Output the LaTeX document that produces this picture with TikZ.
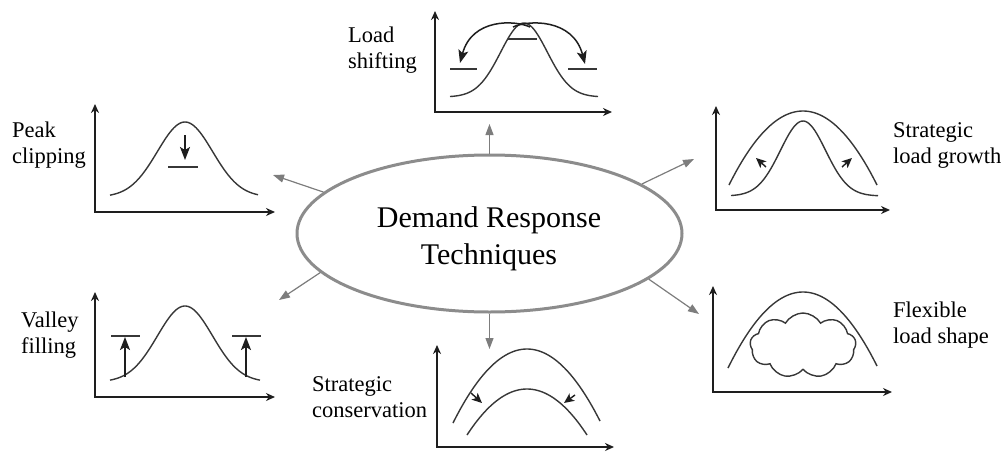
\documentclass[tikz,border=0pt]{standalone}
\usepackage{fontspec}
\setmainfont{Liberation Serif}
\usetikzlibrary{arrows.meta,shapes.geometric,shapes.symbols}
\definecolor{ellGray}{RGB}{140,140,140}
\definecolor{connGray}{RGB}{125,125,125}
\definecolor{curveGray}{RGB}{55,55,55}
\definecolor{axisBlack}{RGB}{30,30,30}
\begin{document}
\begin{tikzpicture}[x=1pt,y=-1pt,
  conn/.style={draw=connGray,line width=1.2pt,-{Triangle[length=11pt,width=8pt]}},
  axisline/.style={draw=axisBlack,line width=1.8pt,{Stealth[length=9pt,width=8pt]}-{Stealth[length=9pt,width=8pt]}},
  curve/.style={draw=curveGray,line width=1.4pt},
  smallarrow/.style={draw=axisBlack,line width=1.5pt,-{Stealth[length=13pt,width=10pt,inset=3pt]}},
  tinyarrow/.style={draw=axisBlack,line width=1.4pt,-{Stealth[length=10pt,width=9pt,inset=2.5pt]}},
  lbl/.style={font=\fontsize{22.5}{26}\selectfont,align=left,anchor=west,inner sep=0pt}]
\useasboundingbox (0,0) rectangle (1007,453);

% central ellipse
\node[ellipse,draw=ellGray,line width=3pt,minimum width=385pt,minimum height=157pt,inner sep=0pt] (E) at (489.5,233.5) {};
\node[font=\fontsize{30}{37}\selectfont,align=center,inner sep=0pt] (T) at (489,238.5) {Demand Response\\Techniques};

% arrow tips
\coordinate (tPC) at (273,175);
\coordinate (tLS) at (489.5,124);
\coordinate (tLG) at (694,159);
\coordinate (tVF) at (279,300);
\coordinate (tSC) at (489.5,349);
\coordinate (tFL) at (699,314);
\draw[conn] (E.166) -- (tPC);
\draw[conn] (E.90) -- (tLS);
\draw[conn] (E.18) -- (tLG);
\draw[conn] (E.193) -- (tVF);
\draw[conn] (E.270) -- (tSC);
\draw[conn] (E.344) -- (tFL);

% ---- Peak clipping
\draw[axisline] (95,104) -- (95,212) -- (275,212);
\draw[curve] plot[domain=110:258,samples=80,smooth] (\x,{197-75*exp(0-((\x-185)/39)^2)});
\draw[smallarrow] (185,135) -- (185,160);
\draw[curve] (168,167) -- (198,167);
\node[lbl] (lPC) at (12,145) {Peak\\clipping};

% ---- Load shifting
\draw[axisline] (435,11) -- (435,112) -- (612,112);
\draw[curve] plot[domain=450:598,samples=80,smooth] (\x,{97-74*exp(0-((\x-524)/33)^2)});
\draw[curve] (508,39) -- (537,39);
\draw[curve] (450,69) -- (477,69);
\draw[curve] (568,69) -- (597,69);
\draw[smallarrow] (530,27) .. controls (515,20) and (472,18) .. (460,63);
\draw[smallarrow] (513,27) .. controls (528,20) and (573,18) .. (585,64);
\node[lbl] (lLS) at (348,50) {Load\\shifting};

% ---- Strategic load growth
\draw[axisline] (716,106) -- (716,210) -- (890,210);
\draw[curve] plot[domain=729:877,samples=80,smooth] (\x,{111+74*((\x-803)/74)*((\x-803)/74)});
\draw[curve] plot[domain=731:878,samples=80,smooth] (\x,{196-75*exp(0-((\x-803)/32)^2)});
\draw[tinyarrow] (766,167) -- (756,158);
\draw[tinyarrow] (842,167) -- (852,158);
\node[lbl] (lLG) at (893,145) {Strategic\\load growth};

% ---- Valley filling
\draw[axisline] (95,292) -- (95,397) -- (275,397);
\draw[curve] plot[domain=110:260,samples=80,smooth] (\x,{382-76*exp(0-((\x-185)/39)^2)});
\draw[curve] (111,336) -- (140,336);
\draw[curve] (232,336) -- (261,336);
\draw[smallarrow] (125,377) -- (125,337);
\draw[smallarrow] (246,377) -- (246,337);
\node[lbl] (lVF) at (21,335) {Valley\\filling};

% ---- Strategic conservation
\draw[axisline] (437,345) -- (437,447) -- (614,447);
\draw[curve] plot[domain=453:600,samples=80,smooth] (\x,{349+73*((\x-527)/73.5)*((\x-527)/73.5)});
\draw[curve] plot[domain=467:587,samples=80,smooth] (\x,{389+46*((\x-527)/60)*((\x-527)/60)});
\draw[tinyarrow] (471,393) -- (482,403);
\draw[tinyarrow] (575,395) -- (564,403);
\node[lbl] (lSC) at (312,397) {Strategic\\conservation};

% ---- Flexible load shape
\draw[axisline] (713,286) -- (713,392) -- (892,392);
\draw[curve] plot[domain=728:877,samples=80,smooth] (\x,{292+75*((\x-803)/74.5)*((\x-803)/74.5)});
\node[cloud,draw=curveGray,line width=1.4pt,cloud puffs=9,cloud puff arc=120,aspect=1.6,minimum width=106pt,minimum height=65pt,inner sep=0pt] (cl) at (803,345.5) {};
\node[lbl] (lFL) at (893,325) {Flexible\\load shape};
\end{tikzpicture}
\end{document}
